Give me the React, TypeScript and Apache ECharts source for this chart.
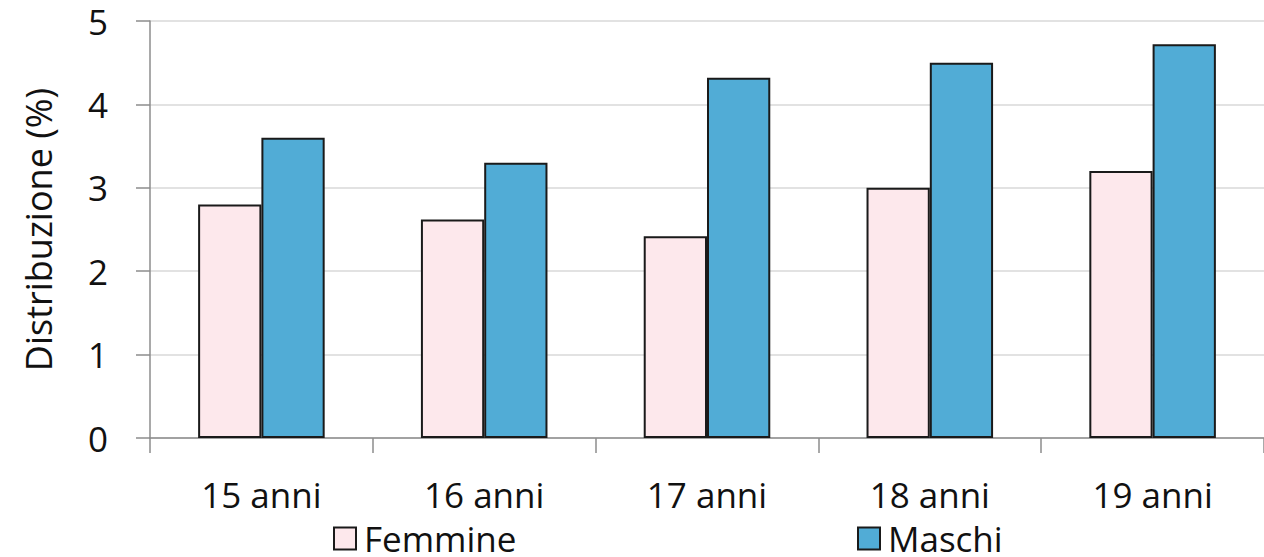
import React, { useEffect, useRef } from "react";
import * as echarts from "echarts";

const categories = ["15 anni", "16 anni", "17 anni", "18 anni", "19 anni"];
const femmine = [2.8, 2.62, 2.42, 3.0, 3.2];
const maschi = [3.6, 3.3, 4.32, 4.5, 4.72];
const yTicks = { min: 0, max: 5, interval: 1 };

const FONT = "'Open Sans', sans-serif";
const PINK = "#FDE8EC";
const BLUE = "#51ACD6";

const legendBase = {
  top: 521,
  itemWidth: 22,
  itemHeight: 22,
  itemGap: 0,
  padding: 0,
  icon: "rect",
  textStyle: { fontFamily: FONT, fontSize: 35, lineHeight: 26, color: "#111", padding: [0, 0, 0, 3] },
};

export default function App() {
  const ref = useRef<HTMLDivElement>(null);
  useEffect(() => {
    if (!ref.current) return;
    const chart = echarts.init(ref.current, undefined, { renderer: "svg" });
    chart.setOption({
      animation: false,
      backgroundColor: "#ffffff",
      textStyle: { fontFamily: FONT },
      grid: { left: 150, right: 0, top: 21, bottom: 119, containLabel: false },
      legend: [
        { ...legendBase, data: ["Femmine"], left: 333 },
        { ...legendBase, data: ["Maschi"], left: 857 },
      ],
      xAxis: {
        type: "category",
        data: categories,
        axisLine: { show: true, lineStyle: { color: "#8c8c8c", width: 1.5 } },
        axisTick: { show: true, alignWithLabel: false, length: 15, lineStyle: { color: "#8c8c8c", width: 1.5 } },
        axisLabel: { fontFamily: FONT, fontSize: 35, lineHeight: 30, color: "#111", margin: 41 },
        splitLine: { show: false },
      },
      yAxis: {
        type: "value",
        min: yTicks.min,
        max: yTicks.max,
        interval: yTicks.interval,
        name: "Distribuzione (%)",
        nameLocation: "middle",
        nameGap: 94,
        nameRotate: 90,
        nameTextStyle: { fontFamily: FONT, fontSize: 36, color: "#111" },
        axisLine: { show: true, lineStyle: { color: "#8c8c8c", width: 1.5 } },
        axisTick: { show: true, length: 14, lineStyle: { color: "#8c8c8c", width: 1.5 } },
        axisLabel: { fontFamily: FONT, fontSize: 35, lineHeight: 28, color: "#111", margin: 42 },
        splitLine: { show: true, lineStyle: { color: "#d9d9d9", width: 1.5 } },
      },
      series: [
        {
          name: "Femmine",
          type: "bar",
          data: femmine,
          barWidth: "28.4%",
          barGap: "0%",
          itemStyle: { color: PINK, borderColor: "#1a1a1a", borderWidth: 2 },
        },
        {
          name: "Maschi",
          type: "bar",
          data: maschi,
          barWidth: "28.4%",
          barGap: "0%",
          itemStyle: { color: BLUE, borderColor: "#1a1a1a", borderWidth: 2 },
        },
      ],
    });
    return () => chart.dispose();
  }, []);
  return <div ref={ref} style={{ width: 1264, height: 557, position: "absolute", left: 0, top: 0 }} />;
}
